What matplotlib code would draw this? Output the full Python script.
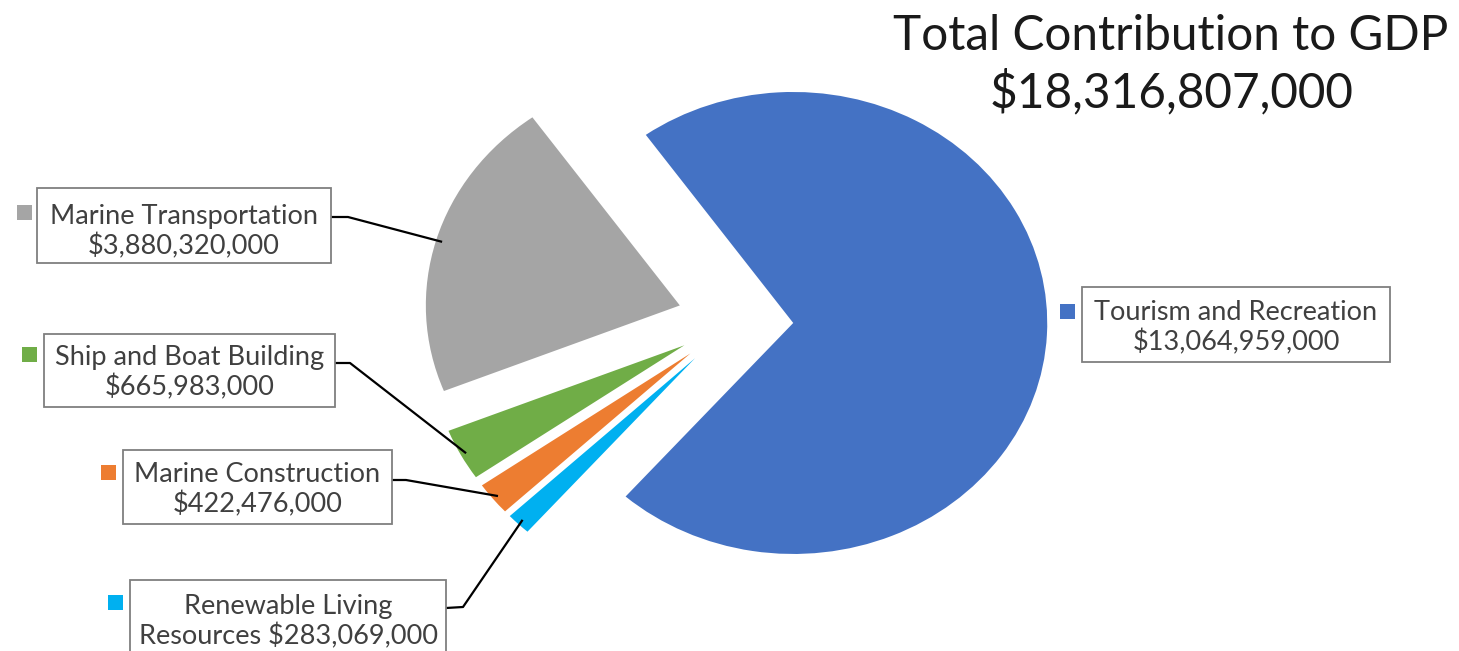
import numpy as np
import matplotlib
matplotlib.use("Agg")
import matplotlib.pyplot as plt
from matplotlib.patches import Rectangle

sectors = ["Tourism and Recreation", "Marine Transportation", "Ship and Boat Building",
           "Marine Construction", "Renewable Living Resources"]
values = [13064959000, 3880320000, 665983000, 422476000, 283069000]
colors = ["#4472C4", "#A5A5A5", "#70AD47", "#ED7D31", "#00B0F0"]
label_texts = ["Tourism and Recreation\n$13,064,959,000",
               "Marine Transportation\n$3,880,320,000",
               "Ship and Boat Building\n$665,983,000",
               "Marine Construction\n$422,476,000",
               "Renewable Living\nResources $283,069,000"]
total = sum(values)

plt.rcParams['font.family'] = ['Lato', 'DejaVu Sans']

# pixel -> data mapping (pie of radius 1 centred at 0,0)
CX, CY, SX, SY = 735.4, 320.3, 254.0, 231.0
def px(x, y):
    return (x - CX) / SX, (CY - y) / SY

fig = plt.figure(figsize=(14.59, 6.51), dpi=100)
ax = fig.add_axes([0, 0, 1, 1])
wedges, _ = ax.pie(values, colors=colors, explode=[0.228] * 5, startangle=-131.3,
                   counterclock=True, radius=1.0, wedgeprops=dict(linewidth=0))
ax.set_aspect('auto')
x0, y0 = px(0, 651)
x1, y1 = px(1459, 0)
ax.set_xlim(x0, x1)
ax.set_ylim(y0, y1)
ax.axis('off')

# label boxes in pixel layout: (left, top, right, bottom), marker pos, knee
boxes = [(1082, 287, 1390, 362), (37, 188, 331, 263), (44, 334, 335, 407),
         (123, 450, 392, 524), (130, 580, 446, 665)]
markers = [(1060, 304), (17, 205), (22, 347), (101, 465), (108, 595)]
text_y = [328, 232, 373, 490, 622]
knees = [None, ((331, 217), (348, 217)), ((335, 363), (350, 363)),
         ((392, 480), (406, 480)), ((446, 608), (463, 607))]

for i, w in enumerate(wedges):
    l, t, r, b = boxes[i]
    bx, by = px(l, b)
    ax.add_patch(Rectangle((bx, by), (r - l) / SX, (b - t) / SY, facecolor='white',
                           edgecolor='#7F7F7F', linewidth=1.3, zorder=3, clip_on=False))
    mx, my = markers[i]
    qx, qy = px(mx, my + 15)
    ax.add_patch(Rectangle((qx, qy), 15 / SX, 15 / SY, facecolor=colors[i],
                           edgecolor='none', zorder=3))
    tx, ty = px((l + r) / 2, text_y[i])
    ax.text(tx, ty, label_texts[i], ha='center', va='center', fontsize=19.5,
            color='#404040', linespacing=1.2, zorder=4)
    if knees[i] is not None:
        mid = np.deg2rad((w.theta1 + w.theta2) / 2)
        ax_, ay_ = w.center[0] + 0.98 * w.r * np.cos(mid), w.center[1] + 0.98 * w.r * np.sin(mid)
        (k0x, k0y), (k1x, k1y) = knees[i]
        p0, p1 = px(k0x, k0y), px(k1x, k1y)
        ax.plot([p0[0], p1[0], ax_], [p0[1], p1[1], ay_], color='black', lw=1.6, zorder=2)

t1 = px(1171, 50)
t2 = px(1172, 107)
ax.text(t1[0], t1[1], "Total Contribution to GDP", ha='center', va='baseline',
        fontsize=34.4, color='#1A1A1A')
ax.text(t2[0], t2[1], f"${total:,}", ha='center', va='baseline',
        fontsize=34.4, color='#1A1A1A')

fig.savefig("out.png", dpi=100)
